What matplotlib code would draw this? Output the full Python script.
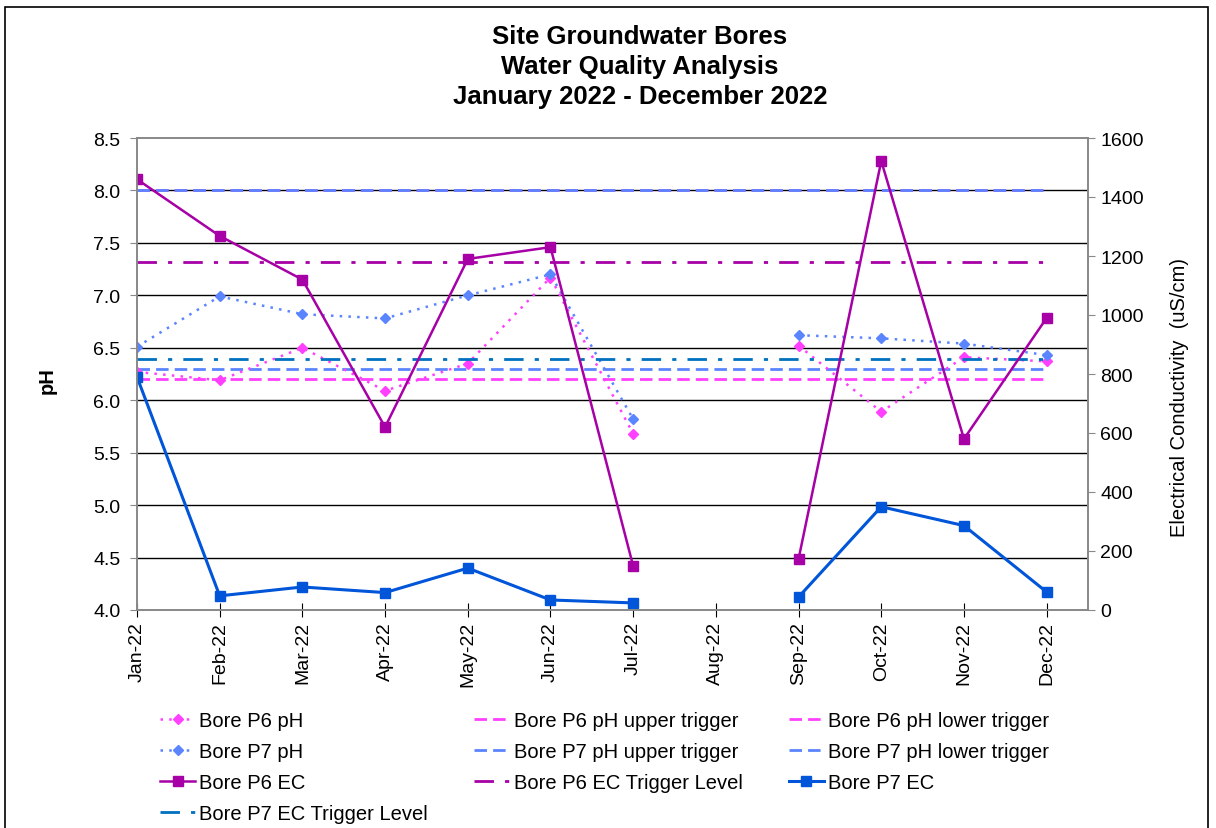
import numpy as np
import matplotlib.pyplot as plt
from matplotlib.patches import Rectangle

months = ['Jan-22', 'Feb-22', 'Mar-22', 'Apr-22', 'May-22', 'Jun-22',
          'Jul-22', 'Aug-22', 'Sep-22', 'Oct-22', 'Nov-22', 'Dec-22']
nan = np.nan

p6_ph = [6.27, 6.19, 6.50, 6.09, 6.35, 7.17, 5.68, nan, 6.52, 5.89, 6.41, 6.37]
p7_ph = [6.51, 6.99, 6.82, 6.78, 7.00, 7.20, 5.82, nan, 6.62, 6.59, 6.54, 6.43]
p6_ec = [1460, 1268, 1120, 620, 1190, 1230, 149, nan, 173, 1522, 580, 990]
p7_ec = [790, 48, 78, 59, 142, 34, 24, nan, 44, 350, 286, 61]

p6_ph_upper = 8.0
p6_ph_lower = 6.2
p7_ph_upper = 8.0
p7_ph_lower = 6.3
p6_ec_trigger = 1178
p7_ec_trigger = 851

c_p6ph = '#FF40FF'
c_p7ph = '#5B84FF'
c_p6ec = '#A600A6'
c_p7ec = '#0055D8'
c_p7trig = '#0070C0'

x = np.arange(len(months))

plt.rcParams['font.family'] = ['Liberation Sans', 'DejaVu Sans']

fig = plt.figure(figsize=(12.16, 8.29), dpi=100)
ax = fig.add_axes([137/1216, 1 - 611/829, (1088-137)/1216, (611-139)/829])
ax2 = ax.twinx()

ax.set_ylim(4.0, 8.5)
ax.set_yticks(np.arange(4.0, 8.51, 0.5))
ax.set_yticklabels([f'{v:.1f}' for v in np.arange(4.0, 8.51, 0.5)])
ax.set_xlim(0, 11.5)
ax.set_xticks(x)
ax.set_xticklabels(months, rotation=90)
ax2.set_ylim(0, 1600)
ax2.set_yticks(range(0, 1601, 200))

for v in np.arange(4.5, 8.01, 0.5):
    ax.axhline(v, color='black', lw=1.0, zorder=0)

dashed = (0, (4.5, 2.2))
dashdot = (0, (7, 4, 1.5, 4))

# trigger lines
ax.plot(x, [p6_ph_upper]*len(x), color=c_p6ph, lw=2, linestyle=dashed, label='Bore P6 pH upper trigger')
ax.plot(x, [p6_ph_lower]*len(x), color=c_p6ph, lw=2, linestyle=dashed, label='Bore P6 pH lower trigger')
ax.plot(x, [p7_ph_upper]*len(x), color=c_p7ph, lw=2, linestyle=dashed, label='Bore P7 pH upper trigger')
ax.plot(x, [p7_ph_lower]*len(x), color=c_p7ph, lw=2, linestyle=dashed, label='Bore P7 pH lower trigger')

ax.plot(x, p6_ph, color=c_p6ph, lw=1.8, linestyle=(0, (1, 2.5)), marker='D', markersize=5,
        label='Bore P6 pH')
ax.plot(x, p7_ph, color=c_p7ph, lw=1.8, linestyle=(0, (1, 2.5)), marker='D', markersize=5,
        label='Bore P7 pH')

ax2.plot(x, [p6_ec_trigger]*len(x), color=c_p6ec, lw=2, linestyle=dashdot, label='Bore P6 EC Trigger Level')
ax2.plot(x, [p7_ec_trigger]*len(x), color=c_p7trig, lw=2, linestyle=dashdot, label='Bore P7 EC Trigger Level')
ax2.plot(x, p6_ec, color=c_p6ec, lw=1.8, marker='s', markersize=7, label='Bore P6 EC')
ax2.plot(x, p7_ec, color=c_p7ec, lw=2.2, marker='s', markersize=7, label='Bore P7 EC')

for a in (ax, ax2):
    for s in a.spines.values():
        s.set_color('#888888')
        s.set_linewidth(1.2)
ax.tick_params(axis='y', direction='out', length=5, color='#888888', labelsize=14, pad=7)
ax2.tick_params(axis='y', direction='out', length=5, color='#888888', labelsize=14, pad=4)
ax.tick_params(axis='x', direction='inout', length=10, color='black', labelsize=14, pad=3)

ax.set_ylabel('pH', fontsize=14.5, fontweight='bold')
ax.yaxis.set_label_coords(-0.084, 0.489)
ax2.set_ylabel('Electrical Conductivity  (uS/cm)', fontsize=14.5)
ax2.yaxis.set_label_coords(1.086, 0.453)

title_x = 640 / 1216
fig.text(title_x, 1 - 37/829, 'Site Groundwater Bores', ha='center', va='center',
         fontsize=18.5, fontweight='bold')
fig.text(title_x, 1 - 67/829, 'Water Quality Analysis', ha='center', va='center',
         fontsize=18.5, fontweight='bold')
fig.text(title_x, 1 - 97/829, 'January 2022 - December 2022', ha='center', va='center',
         fontsize=18.5, fontweight='bold')

h1, l1 = ax.get_legend_handles_labels()
h2, l2 = ax2.get_legend_handles_labels()
hd = dict(zip(l1 + l2, h1 + h2))
order = ['Bore P6 pH', 'Bore P7 pH', 'Bore P6 EC', 'Bore P7 EC Trigger Level',
         'Bore P6 pH upper trigger', 'Bore P7 pH upper trigger', 'Bore P6 EC Trigger Level',
         'Bore P6 pH lower trigger', 'Bore P7 pH lower trigger', 'Bore P7 EC']
fig.legend([hd[k] for k in order], order, ncol=3, loc='upper left',
           bbox_to_anchor=(154/1216, 1 - 706/829), frameon=False, fontsize=14.5,
           handlelength=1.75, handletextpad=0.2, columnspacing=2.3, labelspacing=0.6,
           borderaxespad=0, borderpad=0.3)

fig.patches.append(Rectangle((5/1216, -0.01), 1203/1216, 1 - 8/829 + 0.01,
                             transform=fig.transFigure, fill=False, edgecolor='black', lw=1.2))

fig.savefig('out.png', dpi=100)
